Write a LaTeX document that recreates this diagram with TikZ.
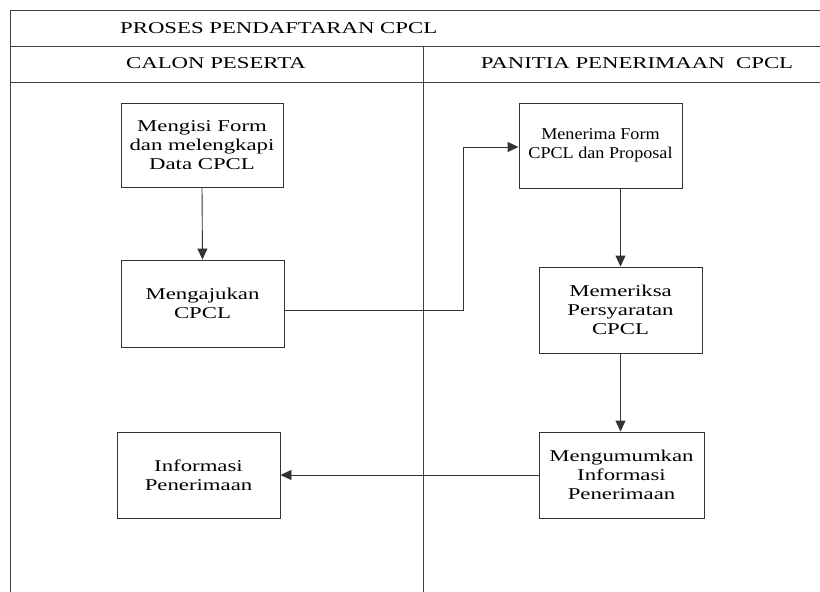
\documentclass[tikz,border=0pt]{standalone}
\usepackage{fontspec}
\setmainfont[FakeStretch=1.38]{Liberation Serif}
\newfontfamily\narrowserif[FakeStretch=1.1]{Liberation Serif}
\usetikzlibrary{arrows.meta}
\begin{document}
\begin{tikzpicture}[x=1pt,y=-1pt,
  lane/.style={draw=black!75, line width=0.9pt},
  proc/.style={draw=black!80, line width=0.9pt, align=center,
    font=\fontsize{16.5}{19}\selectfont, inner sep=0pt},
  flow/.style={draw=black!80, line width=0.9pt, -{Triangle[length=11pt,width=10pt]}},
  head/.style={font=\fontsize{16.5}{19}\selectfont, inner sep=0pt}]
\useasboundingbox (0,0) rectangle (820,592);

% swimlane frame
\draw[lane] (820,10) -- (10,10) -- (10,592);
\draw[lane] (10,46) -- (820,46);
\draw[lane] (10,82) -- (820,82);
\draw[lane] (423,46) -- (423,592);

% headings
\node[head, anchor=base west] (title) at (120,33.5) {PROSES PENDAFTARAN CPCL};
\node[head, anchor=base] (laneA) at (216,68.5) {CALON PESERTA};
\node[head, anchor=base] (laneB) at (637,68.5) {PANITIA PENERIMAAN~ CPCL};

% process steps
\node[proc, minimum width=162pt, minimum height=84pt] (isi) at (202,145)
  {Mengisi Form\\dan melengkapi\\Data CPCL};
\node[proc, minimum width=163pt, minimum height=87pt] (aju) at (202.5,303.5)
  {Mengajukan\\CPCL};
\node[proc, minimum width=163pt, minimum height=85pt,
      font=\narrowserif\fontsize{16.5}{19}\selectfont] (terima) at (600.5,145.5)
  {Menerima Form\\CPCL dan Proposal};
\node[proc, minimum width=163pt, minimum height=86pt] (periksa) at (620.5,310)
  {Memeriksa\\Persyaratan\\CPCL};
\node[proc, minimum width=165pt, minimum height=86pt] (umum) at (621.5,475)
  {Mengumumkan\\Informasi\\Penerimaan};
\node[proc, minimum width=163pt, minimum height=86pt] (info) at (198.5,475)
  {Informasi\\Penerimaan};

% connectors
\coordinate (bend) at (463,147);
\draw[flow] ([yshift=-6.5pt]aju.east) -| (bend) -- (bend -| terima.west);
\draw[flow] (isi.south) -- (aju.north);
\draw[flow] (terima.south -| periksa.north) -- (periksa.north);
\draw[flow] (periksa.south) -- (periksa.south |- umum.north);
\draw[flow] (umum.west) -- (info.east);
\end{tikzpicture}
\end{document}
